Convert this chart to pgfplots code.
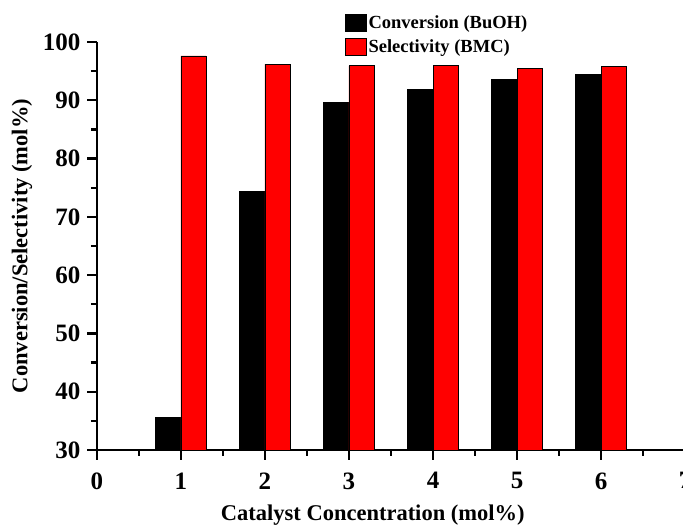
\documentclass[border=0pt]{standalone}
\usepackage{fontspec}
\setmainfont{Liberation Serif}
\usepackage{pgfplots}
\pgfplotsset{compat=1.18}
\pgfplotsset{major tick length=9pt, minor tick length=6pt}
\begin{document}
\begin{tikzpicture}[trim left=-97pt, trim right=586pt]
\begin{axis}[
  scale only axis, width=588pt, height=408pt,
  xmin=0, xmax=7, ymin=30, ymax=100,
  axis x line=bottom, axis y line=left,
  axis line style={-, line width=2.6pt},
  every tick/.style={draw=black, line width=2.2pt},
  tick align=outside,
  xtick={0,1,...,7}, ytick={30,40,...,100},
  minor xtick={0.5,1.5,...,6.5}, minor ytick={35,45,...,95},
  /pgf/number format/assume math mode=true,
  tick label style={font=\bfseries\fontsize{25}{27}\selectfont},
  xticklabel style={yshift=-10pt},
  yticklabel style={xshift=-4pt},
  label style={font=\bfseries\fontsize{22.5}{24}\selectfont},
  xlabel={Catalyst Concentration (mol\%)},
  ylabel={Conversion/Selectivity (mol\%)},
  xlabel style={at={(axis description cs:0.469,-0.159)}, anchor=center},
  ylabel style={at={(axis description cs:-0.1276,0.5)}, anchor=center, rotate=0},
  legend cell align=left,
  legend style={at={(axis description cs:0.4218,1.07)}, anchor=north west,
    draw=none, fill=none, inner sep=0pt, row sep=7pt,
    font=\bfseries\fontsize{18.5}{20}\selectfont,
    nodes={inner sep=1.5pt}},
  legend image code/.code={\draw[#1, draw=black, line width=0.8pt] (0pt,-8.5pt) rectangle (21pt,8.5pt);},
]
\addplot[ybar, bar width=25.2pt, fill=black, draw=black, line width=0.8pt, bar shift=-12.6pt] coordinates {
(1,35.6) (2,74.3) (3,89.6) (4,91.8) (5,93.6) (6,94.5)};
\addplot[ybar, bar width=25.2pt, fill=red, draw=black, line width=0.8pt, bar shift=12.6pt] coordinates {
(1,97.6) (2,96.2) (3,95.9) (4,95.9) (5,95.5) (6,95.8)};
\legend{Conversion (BuOH), Selectivity (BMC)}
\end{axis}
% outward axis ticks (axis origin is at (0,0); 84pt per x unit, 5.828pt per y unit)
\foreach \i in {0,...,7} {\draw[line width=2.4pt] (\i*84pt,0pt) -- ++(0pt,-10pt);}
\foreach \i in {0,...,6} {\draw[line width=2.4pt] (\i*84pt+42pt,0pt) -- ++(0pt,-6.5pt);}
\foreach \i in {0,...,7} {\draw[line width=2.4pt] (0pt,\i*58.2857pt) -- ++(-10pt,0pt);}
\foreach \i in {0,...,6} {\draw[line width=2.4pt] (0pt,\i*58.2857pt+29.1429pt) -- ++(-6.5pt,0pt);}
\path (0pt,-76pt) (0pt,450pt);
\end{tikzpicture}
\end{document}
